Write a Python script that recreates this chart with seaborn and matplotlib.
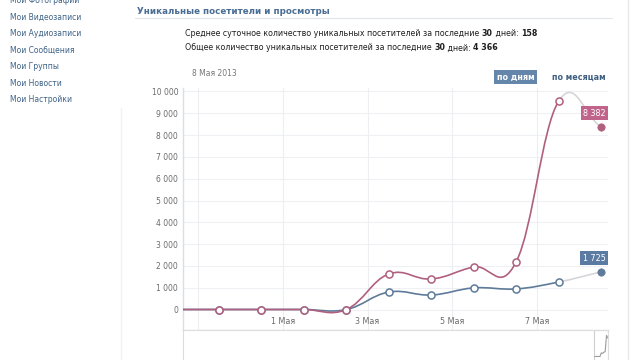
import numpy as np
import matplotlib
matplotlib.use("Agg")
import matplotlib.pyplot as plt
from matplotlib.path import Path
from matplotlib.patches import PathPatch, Rectangle
from matplotlib.lines import Line2D
import seaborn as sns
import pandas as pd

# ---------------- data ----------------
dates = ["28 Апр", "29 Апр", "30 Апр", "1 Мая", "2 Мая", "3 Мая",
         "4 Мая", "5 Мая", "6 Мая", "7 Мая", "8 Мая"]
views = [0, 0, 0, 0, 0, 1630, 1400, 1950, 2180, 9550, 8382]      # просмотры
visitors = [0, 0, 0, 0, 0, 800, 665, 990, 945, 1260, 1725]        # посетители
tick_days = ["29 Апр", "1 Мая", "3 Мая", "5 Мая", "7 Мая"]
tick_labels = ["", "1 Мая", "3 Мая", "5 Мая", "7 Мая"]
ytick_values = [0, 1000, 2000, 3000, 4000, 5000, 6000, 7000, 8000, 9000, 10000]
ytick_labels = ["0", "1 000", "2 000", "3 000", "4 000", "5 000",
                "6 000", "7 000", "8 000", "9 000", "10 000"]
menu_items = ["Мои Фотографии", "Мои Видеозаписи", "Мои Аудиозаписи",
              "Мои Сообщения", "Мои Группы", "Мои Новости", "Мои Настройки"]
header = "Уникальные посетители и просмотры"
stat1 = [("Среднее суточное количество уникальных посетителей за последние ", False),
         ("30", True), (" дней: ", False), ("158", True)]
stat2 = [("Общее количество уникальных посетителей за последние ", False),
         ("30", True), (" дней: ", False), ("4 366", True)]
hover_date = "8 Мая 2013"
btn_days = "по дням"
btn_months = "по месяцам"

df = pd.DataFrame({"date": dates, "views": views, "visitors": visitors})
df["x"] = np.arange(len(df))

# ---------------- style ----------------
sns.set_theme(style="white")
plt.rcParams["font.family"] = ["DejaVu Sans"]

W, H = 640, 360
fig = plt.figure(figsize=(6.4, 3.6), dpi=100)
fig.patch.set_facecolor("white")

def fx(px):
    return px / W

def fy(py):
    return 1 - py / H

RED = "#b0607e"
BLUE = "#5e7b99"
GRAY_SEG = "#d6d6da"
RED_BOX = "#c1648b"
BLUE_BOX = "#5b7ba2"

# ---------------- main axes ----------------
ax_l, ax_r, ax_t, ax_b = 183, 608, 88, 330
ax = fig.add_axes([fx(ax_l), fy(ax_b), (ax_r - ax_l) / W, (ax_b - ax_t) / H])
x0_px, dx_px = 176.6, 42.44
ax.set_xlim((ax_l - x0_px) / dx_px, (ax_r - x0_px) / dx_px)
zero_px, per_k = 309.5, 21.8
ax.set_ylim(-(ax_b - zero_px) / per_k * 1000, (zero_px - ax_t) / per_k * 1000)

def spline_segments(xs, ys, k=0.4):
    xs = np.asarray(xs, float)
    ys = np.asarray(ys, float)
    n = len(xs)
    slopes = np.zeros(n)
    for i in range(n):
        if i == 0:
            slopes[i] = (ys[1] - ys[0]) / (xs[1] - xs[0])
        elif i == n - 1:
            slopes[i] = (ys[-1] - ys[-2]) / (xs[-1] - xs[-2])
        else:
            slopes[i] = (ys[i + 1] - ys[i - 1]) / (xs[i + 1] - xs[i - 1])
    segs = []
    for i in range(n - 1):
        d = xs[i + 1] - xs[i]
        c1 = (xs[i] + k * d, ys[i] + k * d * slopes[i])
        c2 = (xs[i + 1] - k * d, ys[i + 1] - k * d * slopes[i + 1])
        segs.append([(xs[i], ys[i]), c1, c2, (xs[i + 1], ys[i + 1])])
    return segs

def draw_series(col, color):
    segs = spline_segments(df["x"], df[col])
    verts = [segs[0][0]]
    codes = [Path.MOVETO]
    for s in segs[:-1]:
        verts += s[1:]
        codes += [Path.CURVE4] * 3
    ax.add_patch(PathPatch(Path(verts, codes), fill=False, edgecolor=color,
                           lw=1.2, zorder=3, capstyle="round"))
    last = segs[-1]
    ax.add_patch(PathPatch(Path(last, [Path.MOVETO] + [Path.CURVE4] * 3),
                           fill=False, edgecolor=GRAY_SEG, lw=1.2, zorder=2.5))
    sub = df.iloc[:-1]
    sns.scatterplot(data=sub, x="x", y=col, ax=ax, s=26, color="white",
                    edgecolor=color, linewidth=1.1, zorder=4, legend=False)
    sns.scatterplot(data=df.iloc[-1:], x="x", y=col, ax=ax, s=28, color=color,
                    edgecolor=color, linewidth=0.5, zorder=4, legend=False)

draw_series("visitors", BLUE)
draw_series("views", RED)

# value labels at the last point
for col, box in [("views", RED_BOX), ("visitors", BLUE_BOX)]:
    val = df[col].iloc[-1]
    txt = f"{val:,}".replace(",", " ")
    ax.annotate(txt, xy=(df["x"].iloc[-1], val), xytext=(-4.8, 9.8),
                textcoords="offset points", ha="center", va="center",
                fontsize=5.8, color="white", zorder=6,
                bbox=dict(boxstyle="square,pad=0.3", fc=box, ec="none"))

tick_pos = [dates.index(d) - 0.5 for d in tick_days]
ax.set_xticks(tick_pos)
ax.set_xticklabels(tick_labels)
ax.set_yticks(ytick_values)
ax.set_yticklabels(ytick_labels)
ax.tick_params(axis="x", length=0, pad=-9.6, labelsize=5.8, colors="#6b6b6b")
ax.tick_params(axis="y", length=0, pad=3.5, labelsize=5.5, colors="#6b6b6b")
ax.set_xlabel("")
ax.set_ylabel("")
for sp in ["top", "right"]:
    ax.spines[sp].set_visible(False)
ax.spines["left"].set_color("#d9dfe7")
ax.spines["bottom"].set_color("#e3e6ea")
ax.spines["left"].set_linewidth(1.0)
ax.spines["bottom"].set_linewidth(1.0)
for v in ytick_values:
    ax.axhline(v, color="#eef0f3", lw=0.8, zorder=0)
for p in tick_pos:
    ax.axvline(p, color="#eceef1", lw=0.8, zorder=0)

# ---------------- navigator ----------------
nav = fig.add_axes([fx(ax_l), fy(362), (ax_r - ax_l) / W, 32 / H])
nav.set_xlim((ax_r - x0_px) / dx_px - (ax_r - ax_l) / 1.3,
             (ax_r - x0_px) / dx_px)
nav.set_ylim(-2500, 12000)
sns.lineplot(data=df, x="x", y="views", ax=nav, color="#9a9a9a", lw=0.8,
             legend=False)
nav.set_xticks([])
nav.set_yticks([])
nav.set_xlabel("")
nav.set_ylabel("")
for sp in nav.spines.values():
    sp.set_color("#dcdcdc")
    sp.set_linewidth(0.8)
win_l = (ax_l - x0_px) / dx_px
win_r = (ax_r - x0_px) / dx_px
nav.add_patch(Rectangle((win_l - 0.6, -2500), win_r - win_l + 0.5, 14500,
                        fill=False, ec="#cfcfcf", lw=0.8))

# ---------------- page text ----------------
ov = fig.add_axes([0, 0, 1, 1], zorder=-1)
ov.set_xlim(0, W)
ov.set_ylim(H, 0)
ov.axis("off")

for i, item in enumerate(menu_items):
    ov.text(10, 0.5 + i * 16.5, item, fontsize=5.5, color="#3d6287",
            va="center", ha="left")

ov.text(137, 11, header, fontsize=6.3, fontweight="bold", color="#4a6d94",
        va="center", ha="left")
ov.add_line(Line2D([135, 612], [18, 18], color="#e1e6ec", lw=0.8))
ov.add_line(Line2D([628, 628], [0, 360], color="#e8e8e8", lw=1.0))
ov.add_line(Line2D([121, 121], [108, 360], color="#f2f2f2", lw=1.0))

def rich_line(x, y, parts, size=5.65):
    prev = None
    for text, bold in parts:
        kw = dict(fontsize=size, color="#1f1f1f",
                  fontweight="bold" if bold else "normal")
        if prev is None:
            prev = ov.text(x, y, text, va="center", ha="left", **kw)
        else:
            prev = ov.annotate(text, xy=(1, 0.5), xycoords=prev,
                               va="center", ha="left", **kw)

rich_line(185, 33, stat1)
rich_line(185, 48, stat2)

ov.text(192, 74, hover_date, fontsize=5.5, color="#777777", va="center",
        ha="left")
ov.text(515.5, 77, btn_days, fontsize=5.8, fontweight="bold", color="white",
        va="center", ha="center",
        bbox=dict(boxstyle="square,pad=0.3", fc="#6486ab", ec="none"))
ov.text(579, 77, btn_months, fontsize=5.8, fontweight="bold",
        color="#3f5f80", va="center", ha="center")

fig.savefig("out.png", dpi=100, facecolor="white")
